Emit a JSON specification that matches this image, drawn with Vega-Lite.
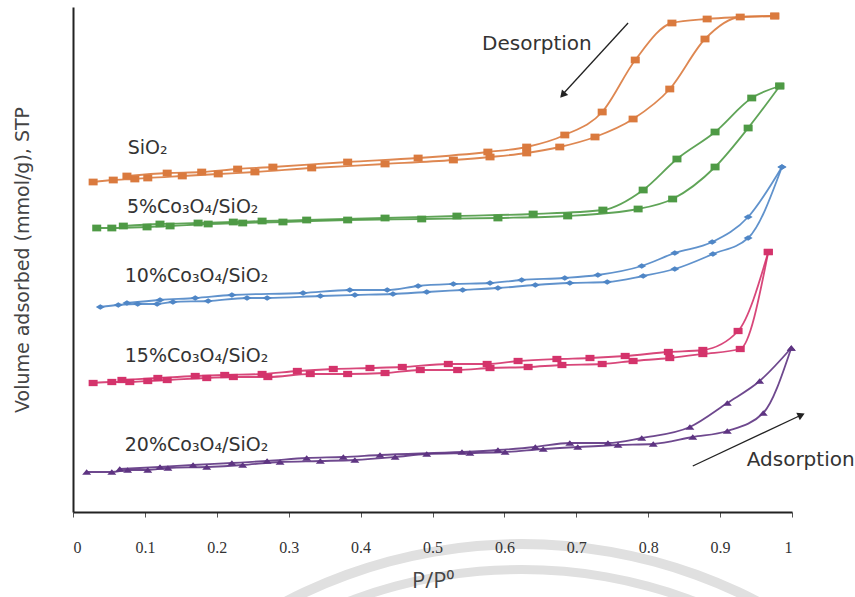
{
  "$schema": "https://vega.github.io/schema/vega-lite/v6.json",
  "width": 719,
  "height": 505,
  "autosize": {"type": "none"},
  "padding": {"left": 73, "top": 7, "right": 63, "bottom": 85},
  "background": "white",
  "config": {
    "view": {"stroke": null},
    "font": "Open Sans"
  },
  "datasets": {
    "iso": [
      {"s": "SiO2", "b": "ads", "x": 0.028, "y": 330},
      {"s": "SiO2", "b": "ads", "x": 0.056, "y": 332},
      {"s": "SiO2", "b": "ads", "x": 0.086, "y": 333},
      {"s": "SiO2", "b": "ads", "x": 0.104, "y": 334},
      {"s": "SiO2", "b": "ads", "x": 0.152, "y": 336},
      {"s": "SiO2", "b": "ads", "x": 0.202, "y": 338},
      {"s": "SiO2", "b": "ads", "x": 0.253, "y": 340},
      {"s": "SiO2", "b": "ads", "x": 0.332, "y": 344},
      {"s": "SiO2", "b": "ads", "x": 0.434, "y": 348},
      {"s": "SiO2", "b": "ads", "x": 0.529, "y": 352},
      {"s": "SiO2", "b": "ads", "x": 0.580, "y": 355},
      {"s": "SiO2", "b": "ads", "x": 0.631, "y": 359},
      {"s": "SiO2", "b": "ads", "x": 0.677, "y": 365},
      {"s": "SiO2", "b": "ads", "x": 0.726, "y": 375},
      {"s": "SiO2", "b": "ads", "x": 0.779, "y": 393},
      {"s": "SiO2", "b": "ads", "x": 0.830, "y": 423},
      {"s": "SiO2", "b": "ads", "x": 0.879, "y": 473},
      {"s": "SiO2", "b": "ads", "x": 0.928, "y": 495},
      {"s": "SiO2", "b": "ads", "x": 0.976, "y": 496},
      {"s": "SiO2", "b": "des", "x": 0.976, "y": 496},
      {"s": "SiO2", "b": "des", "x": 0.882, "y": 493},
      {"s": "SiO2", "b": "des", "x": 0.833, "y": 489},
      {"s": "SiO2", "b": "des", "x": 0.782, "y": 452},
      {"s": "SiO2", "b": "des", "x": 0.736, "y": 400},
      {"s": "SiO2", "b": "des", "x": 0.684, "y": 377},
      {"s": "SiO2", "b": "des", "x": 0.631, "y": 365},
      {"s": "SiO2", "b": "des", "x": 0.577, "y": 360},
      {"s": "SiO2", "b": "des", "x": 0.480, "y": 354},
      {"s": "SiO2", "b": "des", "x": 0.382, "y": 350},
      {"s": "SiO2", "b": "des", "x": 0.278, "y": 345},
      {"s": "SiO2", "b": "des", "x": 0.229, "y": 343},
      {"s": "SiO2", "b": "des", "x": 0.179, "y": 340},
      {"s": "SiO2", "b": "des", "x": 0.131, "y": 339},
      {"s": "SiO2", "b": "des", "x": 0.075, "y": 336},

      {"s": "5%", "b": "ads", "x": 0.033, "y": 284},
      {"s": "5%", "b": "ads", "x": 0.054, "y": 284},
      {"s": "5%", "b": "ads", "x": 0.103, "y": 285},
      {"s": "5%", "b": "ads", "x": 0.135, "y": 286},
      {"s": "5%", "b": "ads", "x": 0.188, "y": 288},
      {"s": "5%", "b": "ads", "x": 0.236, "y": 289},
      {"s": "5%", "b": "ads", "x": 0.292, "y": 290},
      {"s": "5%", "b": "ads", "x": 0.382, "y": 292},
      {"s": "5%", "b": "ads", "x": 0.485, "y": 293},
      {"s": "5%", "b": "ads", "x": 0.591, "y": 294},
      {"s": "5%", "b": "ads", "x": 0.688, "y": 296},
      {"s": "5%", "b": "ads", "x": 0.786, "y": 303},
      {"s": "5%", "b": "ads", "x": 0.834, "y": 313},
      {"s": "5%", "b": "ads", "x": 0.893, "y": 345},
      {"s": "5%", "b": "ads", "x": 0.939, "y": 384},
      {"s": "5%", "b": "ads", "x": 0.983, "y": 426},
      {"s": "5%", "b": "des", "x": 0.983, "y": 426},
      {"s": "5%", "b": "des", "x": 0.944, "y": 414},
      {"s": "5%", "b": "des", "x": 0.893, "y": 380},
      {"s": "5%", "b": "des", "x": 0.840, "y": 353},
      {"s": "5%", "b": "des", "x": 0.793, "y": 322},
      {"s": "5%", "b": "des", "x": 0.737, "y": 302},
      {"s": "5%", "b": "des", "x": 0.640, "y": 298},
      {"s": "5%", "b": "des", "x": 0.534, "y": 296},
      {"s": "5%", "b": "des", "x": 0.434, "y": 294},
      {"s": "5%", "b": "des", "x": 0.325, "y": 292},
      {"s": "5%", "b": "des", "x": 0.263, "y": 291},
      {"s": "5%", "b": "des", "x": 0.223, "y": 290},
      {"s": "5%", "b": "des", "x": 0.174, "y": 289},
      {"s": "5%", "b": "des", "x": 0.121, "y": 288},
      {"s": "5%", "b": "des", "x": 0.070, "y": 286},

      {"s": "10%", "b": "ads", "x": 0.038, "y": 205},
      {"s": "10%", "b": "ads", "x": 0.063, "y": 207},
      {"s": "10%", "b": "ads", "x": 0.090, "y": 208},
      {"s": "10%", "b": "ads", "x": 0.117, "y": 208},
      {"s": "10%", "b": "ads", "x": 0.139, "y": 210},
      {"s": "10%", "b": "ads", "x": 0.188, "y": 211},
      {"s": "10%", "b": "ads", "x": 0.242, "y": 214},
      {"s": "10%", "b": "ads", "x": 0.270, "y": 214},
      {"s": "10%", "b": "ads", "x": 0.344, "y": 216},
      {"s": "10%", "b": "ads", "x": 0.392, "y": 217},
      {"s": "10%", "b": "ads", "x": 0.445, "y": 218},
      {"s": "10%", "b": "ads", "x": 0.492, "y": 220},
      {"s": "10%", "b": "ads", "x": 0.542, "y": 222},
      {"s": "10%", "b": "ads", "x": 0.591, "y": 224},
      {"s": "10%", "b": "ads", "x": 0.643, "y": 227},
      {"s": "10%", "b": "ads", "x": 0.691, "y": 229},
      {"s": "10%", "b": "ads", "x": 0.743, "y": 230},
      {"s": "10%", "b": "ads", "x": 0.793, "y": 236},
      {"s": "10%", "b": "ads", "x": 0.837, "y": 243},
      {"s": "10%", "b": "ads", "x": 0.890, "y": 258},
      {"s": "10%", "b": "ads", "x": 0.939, "y": 274},
      {"s": "10%", "b": "ads", "x": 0.986, "y": 345},
      {"s": "10%", "b": "des", "x": 0.986, "y": 345},
      {"s": "10%", "b": "des", "x": 0.939, "y": 295},
      {"s": "10%", "b": "des", "x": 0.889, "y": 270},
      {"s": "10%", "b": "des", "x": 0.837, "y": 259},
      {"s": "10%", "b": "des", "x": 0.791, "y": 246},
      {"s": "10%", "b": "des", "x": 0.730, "y": 237},
      {"s": "10%", "b": "des", "x": 0.684, "y": 234},
      {"s": "10%", "b": "des", "x": 0.624, "y": 232},
      {"s": "10%", "b": "des", "x": 0.580, "y": 229},
      {"s": "10%", "b": "des", "x": 0.529, "y": 228},
      {"s": "10%", "b": "des", "x": 0.480, "y": 226},
      {"s": "10%", "b": "des", "x": 0.437, "y": 222},
      {"s": "10%", "b": "des", "x": 0.385, "y": 222},
      {"s": "10%", "b": "des", "x": 0.320, "y": 219},
      {"s": "10%", "b": "des", "x": 0.221, "y": 217},
      {"s": "10%", "b": "des", "x": 0.170, "y": 214},
      {"s": "10%", "b": "des", "x": 0.121, "y": 212},
      {"s": "10%", "b": "des", "x": 0.075, "y": 209},

      {"s": "15%", "b": "ads", "x": 0.028, "y": 129},
      {"s": "15%", "b": "ads", "x": 0.054, "y": 130},
      {"s": "15%", "b": "ads", "x": 0.079, "y": 130},
      {"s": "15%", "b": "ads", "x": 0.104, "y": 131},
      {"s": "15%", "b": "ads", "x": 0.131, "y": 132},
      {"s": "15%", "b": "ads", "x": 0.186, "y": 134},
      {"s": "15%", "b": "ads", "x": 0.223, "y": 135},
      {"s": "15%", "b": "ads", "x": 0.271, "y": 135},
      {"s": "15%", "b": "ads", "x": 0.330, "y": 138},
      {"s": "15%", "b": "ads", "x": 0.382, "y": 138},
      {"s": "15%", "b": "ads", "x": 0.434, "y": 139},
      {"s": "15%", "b": "ads", "x": 0.483, "y": 142},
      {"s": "15%", "b": "ads", "x": 0.535, "y": 142},
      {"s": "15%", "b": "ads", "x": 0.580, "y": 144},
      {"s": "15%", "b": "ads", "x": 0.633, "y": 145},
      {"s": "15%", "b": "ads", "x": 0.680, "y": 147},
      {"s": "15%", "b": "ads", "x": 0.736, "y": 148},
      {"s": "15%", "b": "ads", "x": 0.779, "y": 151},
      {"s": "15%", "b": "ads", "x": 0.830, "y": 154},
      {"s": "15%", "b": "ads", "x": 0.876, "y": 158},
      {"s": "15%", "b": "ads", "x": 0.928, "y": 163},
      {"s": "15%", "b": "ads", "x": 0.967, "y": 260},
      {"s": "15%", "b": "des", "x": 0.967, "y": 260},
      {"s": "15%", "b": "des", "x": 0.925, "y": 181},
      {"s": "15%", "b": "des", "x": 0.876, "y": 162},
      {"s": "15%", "b": "des", "x": 0.828, "y": 160},
      {"s": "15%", "b": "des", "x": 0.768, "y": 156},
      {"s": "15%", "b": "des", "x": 0.719, "y": 154},
      {"s": "15%", "b": "des", "x": 0.673, "y": 153},
      {"s": "15%", "b": "des", "x": 0.619, "y": 151},
      {"s": "15%", "b": "des", "x": 0.576, "y": 148},
      {"s": "15%", "b": "des", "x": 0.522, "y": 148},
      {"s": "15%", "b": "des", "x": 0.458, "y": 145},
      {"s": "15%", "b": "des", "x": 0.413, "y": 144},
      {"s": "15%", "b": "des", "x": 0.362, "y": 143},
      {"s": "15%", "b": "des", "x": 0.312, "y": 141},
      {"s": "15%", "b": "des", "x": 0.263, "y": 138},
      {"s": "15%", "b": "des", "x": 0.211, "y": 137},
      {"s": "15%", "b": "des", "x": 0.170, "y": 136},
      {"s": "15%", "b": "des", "x": 0.118, "y": 134},
      {"s": "15%", "b": "des", "x": 0.068, "y": 132},

      {"s": "20%", "b": "ads", "x": 0.019, "y": 40},
      {"s": "20%", "b": "ads", "x": 0.054, "y": 40},
      {"s": "20%", "b": "ads", "x": 0.076, "y": 42},
      {"s": "20%", "b": "ads", "x": 0.104, "y": 42},
      {"s": "20%", "b": "ads", "x": 0.132, "y": 44},
      {"s": "20%", "b": "ads", "x": 0.186, "y": 45},
      {"s": "20%", "b": "ads", "x": 0.236, "y": 47},
      {"s": "20%", "b": "ads", "x": 0.288, "y": 50},
      {"s": "20%", "b": "ads", "x": 0.344, "y": 51},
      {"s": "20%", "b": "ads", "x": 0.392, "y": 52},
      {"s": "20%", "b": "ads", "x": 0.448, "y": 55},
      {"s": "20%", "b": "ads", "x": 0.492, "y": 58},
      {"s": "20%", "b": "ads", "x": 0.552, "y": 59},
      {"s": "20%", "b": "ads", "x": 0.601, "y": 60},
      {"s": "20%", "b": "ads", "x": 0.654, "y": 63},
      {"s": "20%", "b": "ads", "x": 0.702, "y": 65},
      {"s": "20%", "b": "ads", "x": 0.758, "y": 67},
      {"s": "20%", "b": "ads", "x": 0.807, "y": 68},
      {"s": "20%", "b": "ads", "x": 0.862, "y": 75},
      {"s": "20%", "b": "ads", "x": 0.910, "y": 81},
      {"s": "20%", "b": "ads", "x": 0.960, "y": 99},
      {"s": "20%", "b": "ads", "x": 0.999, "y": 164},
      {"s": "20%", "b": "des", "x": 0.999, "y": 164},
      {"s": "20%", "b": "des", "x": 0.955, "y": 131},
      {"s": "20%", "b": "des", "x": 0.910, "y": 109},
      {"s": "20%", "b": "des", "x": 0.858, "y": 85},
      {"s": "20%", "b": "des", "x": 0.791, "y": 74},
      {"s": "20%", "b": "des", "x": 0.744, "y": 69},
      {"s": "20%", "b": "des", "x": 0.691, "y": 69},
      {"s": "20%", "b": "des", "x": 0.643, "y": 65},
      {"s": "20%", "b": "des", "x": 0.591, "y": 62},
      {"s": "20%", "b": "des", "x": 0.541, "y": 60},
      {"s": "20%", "b": "des", "x": 0.427, "y": 57},
      {"s": "20%", "b": "des", "x": 0.376, "y": 55},
      {"s": "20%", "b": "des", "x": 0.325, "y": 54},
      {"s": "20%", "b": "des", "x": 0.270, "y": 51},
      {"s": "20%", "b": "des", "x": 0.221, "y": 49},
      {"s": "20%", "b": "des", "x": 0.167, "y": 47},
      {"s": "20%", "b": "des", "x": 0.121, "y": 45},
      {"s": "20%", "b": "des", "x": 0.065, "y": 43}
    ],
    "labels": [
      {"x": 0.076, "y": 364, "t": "SiO₂"},
      {"x": 0.075, "y": 305, "t": "5%Co₃O₄/SiO₂"},
      {"x": 0.072, "y": 236, "t": "10%Co₃O₄/SiO₂"},
      {"x": 0.072, "y": 156, "t": "15%Co₃O₄/SiO₂"},
      {"x": 0.072, "y": 67, "t": "20%Co₃O₄/SiO₂"}
    ],
    "arrows": [
      {"name": "Desorption", "x": 0.772, "y": 489, "x2": 0.679, "y2": 416, "hx": 0.681, "hy": 417, "a": 222, "tx": 0.569, "ty": 468},
      {"name": "Adsorption", "x": 0.862, "y": 46, "x2": 1.010, "y2": 96, "hx": 1.013, "hy": 97, "a": 65, "tx": 0.937, "ty": 52}
    ],
    "seal": [
      {"x": 0.624, "y": -543}
    ]
  },
  "encoding": {
    "x": {
      "field": "x", "type": "quantitative",
      "scale": {"domain": [0, 1], "nice": false, "zero": false},
      "axis": {
        "title": "P/P⁰",
        "values": [0, 0.1, 0.2, 0.3, 0.4, 0.5, 0.6, 0.7, 0.8, 0.9, 1],
        "format": "~g",
        "grid": false,
        "zindex": 1,
        "domainColor": "#222222", "domainWidth": 2,
        "tickColor": "#555555", "tickSize": 5, "tickWidth": 1,
        "labelFont": "Liberation Serif", "labelFontSize": 16, "labelColor": "#333333",
        "labelPadding": 22,
        "titleFont": "Open Sans", "titleFontSize": 22, "titleFontWeight": "normal", "titleColor": "#444444",
        "titlePadding": 15
      }
    },
    "y": {
      "field": "y", "type": "quantitative",
      "scale": {"domain": [0, 505], "nice": false, "zero": false},
      "axis": {
        "title": "Volume adsorbed (mmol/g), STP",
        "grid": false, "ticks": false, "labels": false,
        "zindex": 1,
        "domainColor": "#222222", "domainWidth": 2,
        "titleFont": "DejaVu Sans", "titleFontSize": 19, "titleFontWeight": "normal", "titleColor": "#444444",
        "titlePadding": 41
      }
    }
  },
  "layer": [
    {
      "data": {"name": "seal"},
      "mark": {"type": "arc", "radius": 516, "radius2": 506, "theta": -0.7, "theta2": 0.7, "color": "#e0e0e0"}
    },
    {
      "data": {"name": "seal"},
      "mark": {"type": "arc", "radius": 490, "radius2": 481, "theta": -0.7, "theta2": 0.7, "color": "#e0e0e0"}
    },
    {
      "data": {"name": "iso"},
      "mark": {"type": "line", "interpolate": "monotone", "strokeWidth": 1.8, "opacity": 0.9},
      "encoding": {
        "color": {
          "field": "s", "type": "nominal", "legend": null,
          "scale": {"domain": ["SiO2", "5%", "10%", "15%", "20%"], "range": ["#DA7A3E", "#4E9A45", "#4F86C6", "#D4336B", "#5E3482"]}
        },
        "detail": {"field": "b"}
      }
    },
    {
      "data": {"name": "iso"},
      "mark": {"type": "point", "filled": true, "opacity": 1},
      "encoding": {
        "color": {
          "field": "s", "type": "nominal", "legend": null,
          "scale": {"domain": ["SiO2", "5%", "10%", "15%", "20%"], "range": ["#D5652A", "#3E8E34", "#3F74B5", "#D42A63", "#52276F"]}
        },
        "shape": {
          "field": "s", "type": "nominal", "legend": null,
          "scale": {"domain": ["SiO2", "5%", "10%", "15%", "20%"], "range": ["M-1,-0.75H1V0.75H-1Z", "M-1,-0.75H1V0.75H-1Z", "M-1,0L0,-0.6L1,0L0,0.6Z", "M-1,-0.7H1V0.7H-1Z", "M-1,0.6L0,-0.6L1,0.6Z"]}
        },
        "size": {
          "field": "s", "type": "nominal", "legend": null,
          "scale": {"domain": ["SiO2", "5%", "10%", "15%", "20%"], "range": [81, 81, 49, 81, 42]}
        }
      }
    },
    {
      "data": {"name": "labels"},
      "mark": {"type": "text", "align": "left", "baseline": "middle", "font": "DejaVu Sans", "fontSize": 19, "color": "#333333"},
      "encoding": {"text": {"field": "t"}}
    },
    {
      "data": {"name": "arrows"},
      "mark": {"type": "rule", "color": "#222222", "strokeWidth": 1.3},
      "encoding": {
        "x2": {"field": "x2"},
        "y2": {"field": "y2"}
      }
    },
    {
      "data": {"name": "arrows"},
      "mark": {"type": "point", "shape": "triangle-up", "filled": true, "color": "#222222", "size": 70, "opacity": 1},
      "encoding": {
        "x": {"field": "hx", "type": "quantitative"},
        "y": {"field": "hy", "type": "quantitative"},
        "angle": {"field": "a", "type": "quantitative", "scale": null}
      }
    },
    {
      "data": {"name": "arrows"},
      "mark": {"type": "text", "align": "left", "baseline": "middle", "font": "DejaVu Sans", "fontSize": 20, "color": "#333333"},
      "encoding": {
        "x": {"field": "tx", "type": "quantitative"},
        "y": {"field": "ty", "type": "quantitative"},
        "text": {"field": "name"}
      }
    }
  ]
}
